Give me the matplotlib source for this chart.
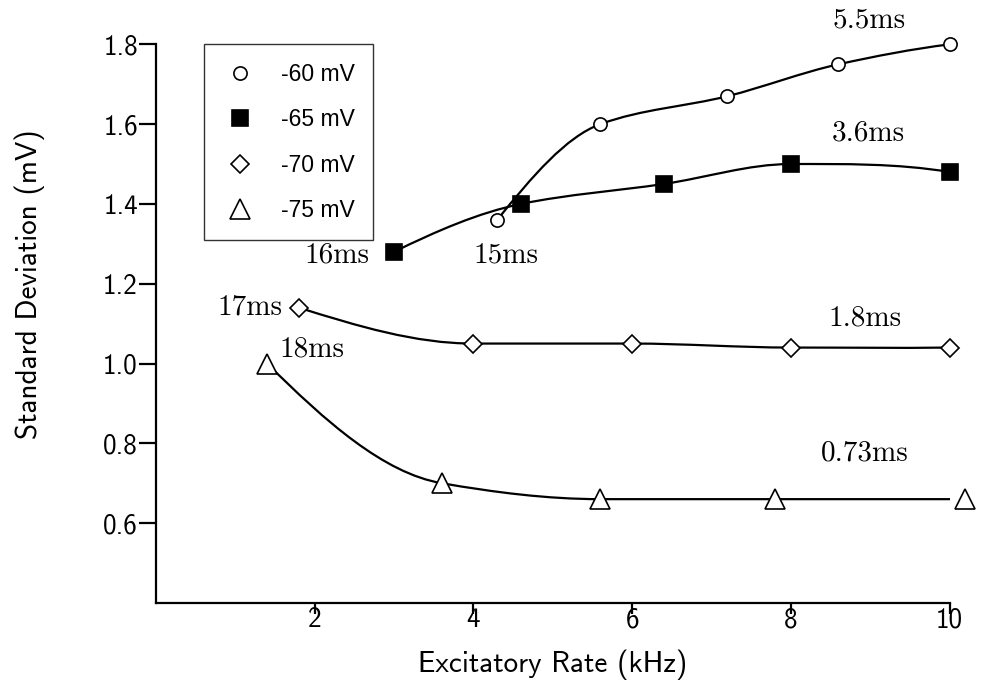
import numpy as np
import matplotlib
matplotlib.use("Agg")
import matplotlib.pyplot as plt
from matplotlib.path import Path
from matplotlib.patches import PathPatch

plt.rcParams['axes.unicode_minus'] = False

# data
x_60 = [4.3, 5.6, 7.2, 8.6, 10.0]
y_60 = [1.36, 1.60, 1.67, 1.75, 1.80]
x_65 = [3.0, 4.6, 6.4, 8.0, 10.0]
y_65 = [1.28, 1.40, 1.45, 1.50, 1.48]
x_70 = [1.8, 4.0, 6.0, 8.0, 10.0]
y_70 = [1.14, 1.05, 1.05, 1.04, 1.04]
x_75 = [1.4, 3.6, 5.6, 7.8, 10.2]
y_75 = [1.00, 0.70, 0.66, 0.66, 0.66]

labels = ['-60 mV', '-65 mV', '-70 mV', '-75 mV']
xticks = [2, 4, 6, 8, 10]
yticks = [0.6, 0.8, 1.0, 1.2, 1.4, 1.6, 1.8]
notes = ['5.5ms', '3.6ms', '16ms', '15ms', '17ms', '1.8ms', '18ms', '0.73ms']
note_xy = [(8.98, 1.86), (8.98, 1.577), (2.28, 1.27), (4.41, 1.27),
           (1.18, 1.142), (8.94, 1.112), (1.96, 1.035), (8.93, 0.774)]


def pchip_path(x, y):
    # smooth curve through the points, drawn as cubic bezier segments
    x = np.asarray(x, float)
    y = np.asarray(y, float)
    h = np.diff(x)
    d = np.diff(y) / h
    n = len(x)
    m = np.zeros(n)
    for i in range(1, n - 1):
        if d[i - 1] * d[i] <= 0:
            m[i] = 0
        else:
            w1 = 2 * h[i] + h[i - 1]
            w2 = h[i] + 2 * h[i - 1]
            m[i] = (w1 + w2) / (w1 / d[i - 1] + w2 / d[i])
    m[0] = ((2 * h[0] + h[1]) * d[0] - h[0] * d[1]) / (h[0] + h[1])
    m[-1] = ((2 * h[-1] + h[-2]) * d[-1] - h[-1] * d[-2]) / (h[-1] + h[-2])
    verts = [(x[0], y[0])]
    codes = [Path.MOVETO]
    for i in range(n - 1):
        verts += [(x[i] + h[i] / 3, y[i] + m[i] * h[i] / 3),
                  (x[i + 1] - h[i] / 3, y[i + 1] - m[i + 1] * h[i] / 3),
                  (x[i + 1], y[i + 1])]
        codes += [Path.CURVE4] * 3
    return Path(verts, codes)


fig = plt.figure(figsize=(9.81, 6.82), dpi=100)
ax = fig.add_axes([0.159, 0.116, 0.809, 0.819])

series = [(x_60, y_60, 'o', 'white', 9.5),
          (x_65, y_65, 's', 'black', 12),
          (x_70, y_70, 'D', 'white', 9),
          (x_75, y_75, '^', 'white', 14)]

for (xs, ys, mk, fc, ms), lab in zip(series, labels):
    ax.add_patch(PathPatch(pchip_path(xs, ys), fill=False, lw=1.6,
                           ec='black', zorder=2))
    ax.plot(xs, ys, ls='none', marker=mk, mfc=fc, mec='black', mew=1.2,
            ms=ms, clip_on=False, zorder=3, label=lab)

for t, (tx, ty) in zip(notes, note_xy):
    ax.text(tx, ty, t, family='cmr10', fontsize=21, ha='center', va='center')

ax.set_xlim(0, 10)
ax.set_ylim(0.4, 1.8)
ax.set_xticks(xticks)
ax.set_xticklabels([str(v) for v in xticks], family='cmss10', fontsize=19.5)
ax.set_yticks(yticks)
ax.set_yticklabels(['%.1f' % v for v in yticks], family='cmss10', fontsize=19.5)
ax.spines['top'].set_visible(False)
ax.spines['right'].set_visible(False)
for s in ['left', 'bottom']:
    ax.spines[s].set_linewidth(1.6)
ax.tick_params(axis='y', length=12, width=1.6, pad=1)
ax.tick_params(axis='x', length=8, width=1.6, pad=-5)

ax.set_xlabel('Excitatory Rate (kHz)', family='cmss10', fontsize=21)
ax.set_ylabel('Standard Deviation (mV)', family='cmss10', fontsize=21)
ax.xaxis.set_label_coords(0.5, -0.083)
ax.yaxis.set_label_coords(-0.14, 0.571)

leg = ax.legend(loc='upper left', bbox_to_anchor=(0.06, 1.0), borderaxespad=0,
                prop={'family': 'Liberation Sans', 'size': 16.5},
                frameon=True, fancybox=False, borderpad=0.8, labelspacing=0.98,
                handlelength=1.57, handletextpad=1.0, numpoints=1)
leg.get_frame().set_edgecolor('#333333')
leg.get_frame().set_linewidth(1.0)
leg.get_frame().set_alpha(1)

fig.savefig('out.png', dpi=100)
